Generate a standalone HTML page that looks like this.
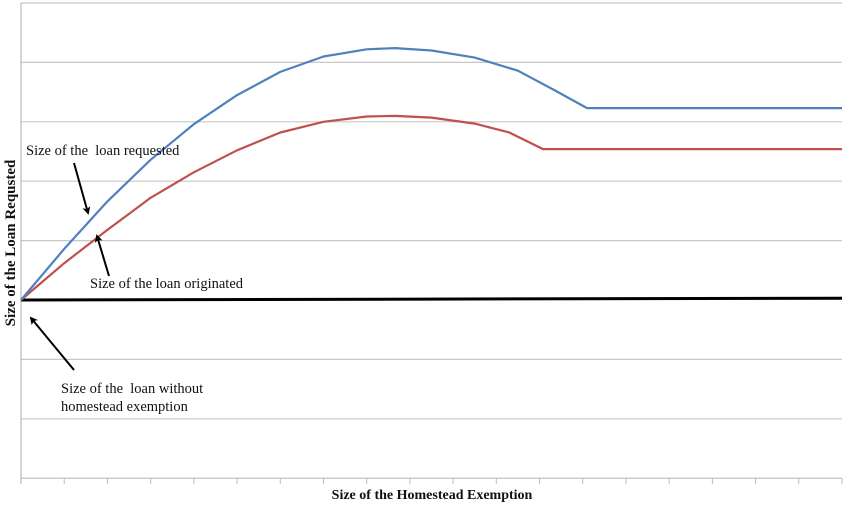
<!DOCTYPE html>
<html><head><meta charset="utf-8"><style>
html,body{margin:0;padding:0;background:#fff;}
svg{display:block;font-family:"Liberation Serif",serif;}
</style></head><body>
<svg id="chart" width="850" height="508" viewBox="0 0 850 508">
<g id="grid"></g>
<g id="ticks"></g>
<g id="series"></g>
<text x="432" y="499" text-anchor="middle" font-size="14" font-weight="bold" fill="#111">Size of the Homestead Exemption</text>
<text transform="translate(15,243) rotate(-90)" text-anchor="middle" font-size="15" font-weight="bold" fill="#111">Size of the Loan Requsted</text>
<g font-size="14.5" fill="#111">
<text x="26" y="155" xml:space="preserve">Size of the  loan requested</text>
<text x="90" y="288">Size of the loan originated</text>
<text x="61" y="393" xml:space="preserve">Size of the  loan without</text>
<text x="61" y="411">homestead exemption</text>
</g>
<defs><marker id="ah" markerWidth="8" markerHeight="8" refX="6" refY="4" orient="auto" markerUnits="userSpaceOnUse"><path d="M0,0 L8,4 L0,8 L2,4 Z" fill="#000"/></marker></defs>
<line x1="74" y1="163" x2="88" y2="213" stroke="#000" stroke-width="2" marker-end="url(#ah)"/>
<line x1="109" y1="276" x2="97" y2="236" stroke="#000" stroke-width="2" marker-end="url(#ah)"/>
<line x1="74" y1="370" x2="31" y2="318" stroke="#000" stroke-width="2" marker-end="url(#ah)"/>
</svg>
<script>
const gridValues=[-3,-2,-1,0,1,2,3,4,5];
const tickCount=19;
const blueX=[0,1,2,3,4,5,6,7,8,8.66,9.5,10.5,11.5,12.3,13.1,19];
const blueV=[0,0.86,1.66,2.36,2.96,3.45,3.84,4.10,4.22,4.24,4.20,4.08,3.86,3.55,3.23,3.23];
const redX=[0,1,2,3,4,5,6,7,8,8.66,9.5,10.5,11.3,12.08,19];
const redV=[0,0.62,1.18,1.72,2.15,2.52,2.82,3.0,3.09,3.10,3.07,2.97,2.82,2.54,2.54];
const blackX=[0,19];
const blackV=[0,0.03];
const X0=21,X1=842;
const sx=v=>X0+(X1-X0)*v/tickCount;
const sy=v=>300-59.4*v;
const NS="http://www.w3.org/2000/svg";
const grid=document.getElementById('grid');
gridValues.forEach(g=>{
  if(g===0)return;
  const l=document.createElementNS(NS,'line');
  
  
  l.setAttribute('x1',X0);l.setAttribute('x2',X1);
  l.setAttribute('y1',sy(g));l.setAttribute('y2',sy(g));
  l.setAttribute('stroke',g===-3?'#bbb':'#c8c8c8');l.setAttribute('stroke-width','1.2');
  grid.appendChild(l);
});
const ax=document.createElementNS(NS,'line');


ax.setAttribute('x1',X0);ax.setAttribute('x2',X0);ax.setAttribute('y1',sy(5));ax.setAttribute('y2',484);
ax.setAttribute('stroke','#bbb');ax.setAttribute('stroke-width','1.2');
grid.appendChild(ax);
const ticks=document.getElementById('ticks');
for(let i=0;i<=tickCount;i++){
  const t=document.createElementNS(NS,'line');
  
  
  t.setAttribute('x1',sx(i));t.setAttribute('x2',sx(i));t.setAttribute('y1',sy(-3));t.setAttribute('y2',484);
  t.setAttribute('stroke','#bbb');t.setAttribute('stroke-width','1');
  ticks.appendChild(t);
}
const series=document.getElementById('series');
function draw(xs,vs,color,w,name){
  const p=document.createElementNS(NS,'polyline');
  
  
  p.setAttribute('points',xs.map((x,i)=>sx(x).toFixed(1)+','+sy(vs[i]).toFixed(1)).join(' '));
  p.setAttribute('fill','none');p.setAttribute('stroke',color);p.setAttribute('stroke-width',w);
  p.setAttribute('stroke-linejoin','round');
  series.appendChild(p);
}
draw(blackX,blackV,'#000',3,'line-loan-without-exemption');
draw(redX,redV,'#c0504d',2.2,'line-loan-originated');
draw(blueX,blueV,'#4f81bd',2.2,'line-loan-requested');
</script>
</body></html>
